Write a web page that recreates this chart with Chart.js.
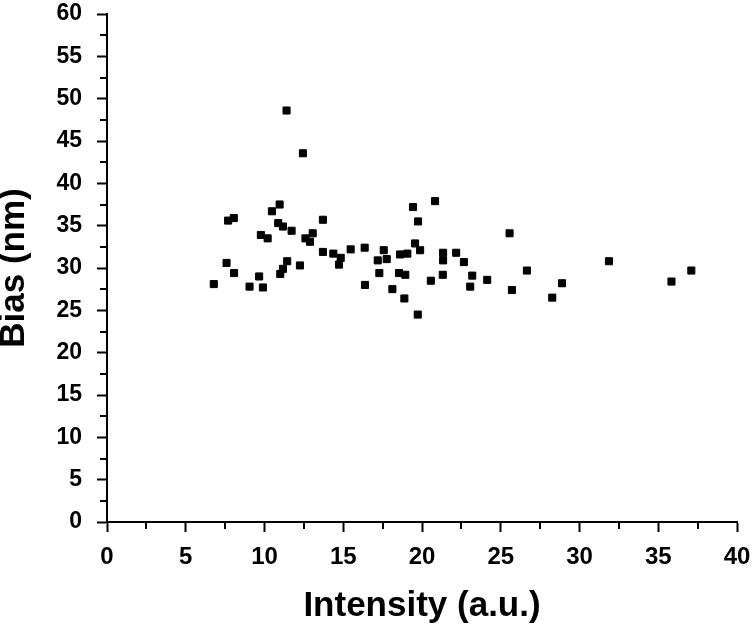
<!DOCTYPE html>
<html>
<head>
<meta charset="utf-8">
<script src="https://cdn.jsdelivr.net/npm/chart.js@4/dist/chart.umd.min.js"></script>
<style>
html,body{margin:0;padding:0;background:#fff;}
#wrap{width:754px;height:624px;}
</style>
</head>
<body>
<div id="wrap"><canvas id="c" width="754" height="624"></canvas></div>
<script>
const intensity = [6.78,7.59,7.69,8.05,8.07,9.05,9.66,9.9,9.77,10.2,10.47,10.96,10.87,11.17,11.72,11.0,11.17,11.44,11.40,12.44,12.25,12.6,13.06,12.89,13.71,13.71,14.37,14.84,14.73,15.47,16.36,16.38,17.57,17.19,17.76,17.29,18.12,18.61,19.07,18.54,18.94,18.88,19.43,20.83,19.75,19.56,19.88,19.73,20.56,21.34,21.34,21.32,22.17,22.66,23.19,23.06,24.14,25.56,26.66,25.71,28.27,28.89,31.87,35.84,37.1];
const bias = [28.1,30.6,35.6,35.9,29.4,27.8,29.0,27.7,33.9,33.5,36.7,37.5,35.3,34.9,34.4,29.3,29.9,30.8,48.6,43.55,30.3,33.5,34.1,33.1,35.7,31.9,31.7,31.2,30.4,32.2,32.4,28.0,32.1,30.9,31.05,29.4,27.5,31.6,31.7,29.4,29.2,26.4,37.2,37.9,35.5,32.9,32.1,24.5,28.5,31.8,30.9,29.2,31.8,30.7,29.1,27.8,28.6,34.1,29.7,27.4,26.5,28.2,30.8,28.4,29.7];
const xTicks = [0,5,10,15,20,25,30,35,40];
const yTicks = [0,5,10,15,20,25,30,35,40,45,50,55,60];
const xTitle = 'Intensity (a.u.)';
const yTitle = 'Bias (nm)';

const points = intensity.map((x,i)=>({x:x,y:bias[i]}));
const FONT = "'Liberation Sans', Arial, sans-serif";

const minorTicks = {
  id:'minorTicks',
  afterDraw(chart){
    const ctx = chart.ctx;
    const xs = chart.scales.x, ys = chart.scales.y;
    ctx.save();
    ctx.strokeStyle = '#000';
    ctx.lineWidth = 2;
    ctx.beginPath();
    for (let i=0;i<xTicks.length-1;i++){
      const v = (xTicks[i]+xTicks[i+1])/2;
      const px = Math.round(xs.getPixelForValue(v));
      ctx.moveTo(px, xs.top); ctx.lineTo(px, xs.top+7);
    }
    for (let i=0;i<yTicks.length-1;i++){
      const v = (yTicks[i]+yTicks[i+1])/2;
      const py = Math.round(ys.getPixelForValue(v));
      ctx.moveTo(ys.right, py); ctx.lineTo(ys.right-7, py);
    }
    ctx.stroke();
    ctx.restore();
  }
};

new Chart(document.getElementById('c'), {
  type:'scatter',
  data:{datasets:[{
    data:points,
    pointStyle:'rect',
    pointRadius:5,
    pointHoverRadius:5,
    backgroundColor:'#000',
    borderColor:'#000',
    borderWidth:1
  }]},
  options:{
    responsive:false,
    animation:false,
    events:[],
    layout:{padding:{top:14,right:17,left:0,bottom:0}},
    plugins:{legend:{display:false},tooltip:{enabled:false}},
    scales:{
      x:{
        type:'linear', min:0, max:40,
        afterBuildTicks(s){ s.ticks = xTicks.map(v=>({value:v})); },
        afterFit(s){ s.height = 102; s.paddingLeft = 0; s.paddingRight = 0; },
        border:{display:true,color:'#000',width:2},
        grid:{display:true,drawOnChartArea:false,drawTicks:true,tickLength:10,tickWidth:2,tickColor:'#000'},
        ticks:{color:'#000',padding:11,font:{family:FONT,size:24,weight:'bold'},maxRotation:0,autoSkip:false},
        title:{display:true,text:xTitle,color:'#000',font:{family:FONT,size:35,weight:'bold',lineHeight:1},padding:{top:0,bottom:0}}
      },
      y:{
        type:'linear', min:0, max:60,
        afterBuildTicks(s){ s.ticks = yTicks.map(v=>({value:v})); },
        afterFit(s){ s.width = 107; s.paddingTop = 0; s.paddingBottom = 0; },
        border:{display:true,color:'#000',width:2},
        grid:{display:true,drawOnChartArea:false,drawTicks:true,tickLength:10,tickWidth:2,tickColor:'#000'},
        ticks:{color:'#000',padding:15,font:{family:FONT,size:23,weight:'bold'},autoSkip:false},
        title:{display:true,text:yTitle,color:'#000',font:{family:FONT,size:35,weight:'bold',lineHeight:0.84},padding:{top:0,bottom:0}}
      }
    }
  },
  plugins:[minorTicks]
});
</script>
</body>
</html>
